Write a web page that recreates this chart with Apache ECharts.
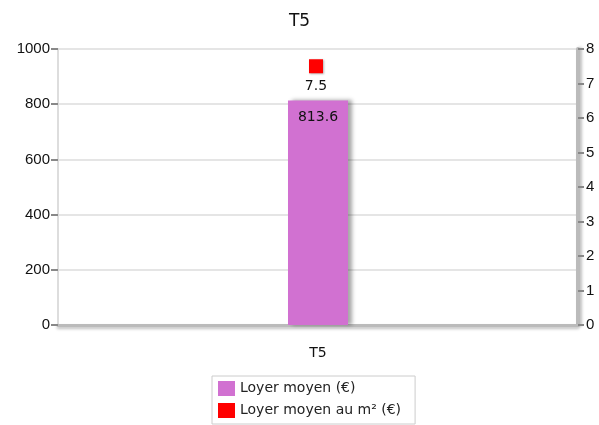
<!DOCTYPE html>
<html><head><meta charset="utf-8">
<script src="https://cdn.jsdelivr.net/npm/echarts@6/dist/echarts.min.js"></script>
<style>html,body{margin:0;padding:0;background:#fff}#c{width:599px;height:425px}</style>
</head><body><div id="c"></div>
<script>
const categories = ['T5'];
const loyerMoyen = [813.6];
const loyerM2 = [7.5];
const leftTicks = [0, 200, 400, 600, 800, 1000];
const rightTicks = [0, 1, 2, 3, 4, 5, 6, 7, 8];

const chart = echarts.init(document.getElementById('c'));
chart.setOption({
  animation: false,
  title: { text: 'T5', left: 'center', top: 8, textStyle: { fontFamily: 'DejaVu Sans', fontSize: 17, fontWeight: 'normal', color: '#111' } },
  grid: { left: 58, right: 21, top: 49, bottom: 100 },
  legend: {
    orient: 'vertical', left: 212, top: 376, width: 200,
    padding: [5, 14, 6, 6], itemGap: 7,
    borderColor: '#ccc', borderWidth: 1, borderRadius: 0,
    itemWidth: 17, itemHeight: 15,
    textStyle: { fontFamily: 'DejaVu Sans', fontSize: 14, color: '#222' },
    data: [{ name: 'Loyer moyen (€)', icon: 'rect' }, { name: 'Loyer moyen au m² (€)', icon: 'rect' }]
  },
  xAxis: {
    type: 'category', data: categories,
    axisLine: { lineStyle: { color: '#bbb', width: 3, shadowColor: 'rgba(0,0,0,0.25)', shadowBlur: 3, shadowOffsetY: 2 } },
    axisTick: { show: false },
    axisLabel: { margin: 21, fontFamily: 'DejaVu Sans', fontSize: 14, color: '#111' }
  },
  yAxis: [
    {
      type: 'value', min: leftTicks[0], max: leftTicks[leftTicks.length - 1], interval: 200,
      axisLine: { show: true, lineStyle: { color: '#ddd', width: 2 } },
      axisTick: { show: true, length: 7, lineStyle: { color: '#888', width: 2 } },
      axisLabel: { fontFamily: 'Liberation Sans', fontSize: 15, color: '#111', margin: 8, formatter: v => String(v) },
      splitLine: { lineStyle: { color: '#ddd', width: 1.5 } }
    },
    {
      type: 'value', min: rightTicks[0], max: rightTicks[rightTicks.length - 1], interval: 1,
      axisLine: { show: true, lineStyle: { color: '#bbb', width: 4, shadowColor: 'rgba(0,0,0,0.25)', shadowBlur: 3, shadowOffsetX: 2 } },
      axisTick: { show: true, length: 6, inside: false, lineStyle: { color: '#888', width: 2 } },
      axisLabel: { fontFamily: 'Liberation Sans', fontSize: 15, color: '#111', margin: 8 },
      splitLine: { show: false }
    }
  ],
  series: [
    {
      name: 'Loyer moyen (€)', type: 'bar', data: loyerMoyen, barWidth: 60, yAxisIndex: 0,
      itemStyle: { color: '#d171d1', shadowColor: 'rgba(0,0,0,0.35)', shadowBlur: 4, shadowOffsetX: 4, shadowOffsetY: 0 },
      label: { show: true, position: 'insideTop', distance: 10, fontFamily: 'DejaVu Sans', fontSize: 14, color: '#111' }
    },
    {
      name: 'Loyer moyen au m² (€)', type: 'scatter', data: loyerM2, yAxisIndex: 1,
      symbol: 'rect', symbolSize: 14, symbolOffset: [-2, 0],
      itemStyle: { color: '#ff0000', opacity: 1, shadowColor: 'rgba(0,0,0,0.3)', shadowBlur: 2, shadowOffsetX: 1, shadowOffsetY: 1 },
      label: { show: true, position: 'bottom', distance: 6, fontFamily: 'DejaVu Sans', fontSize: 14, color: '#111', opacity: 1 }
    }
  ]
});
</script></body></html>
